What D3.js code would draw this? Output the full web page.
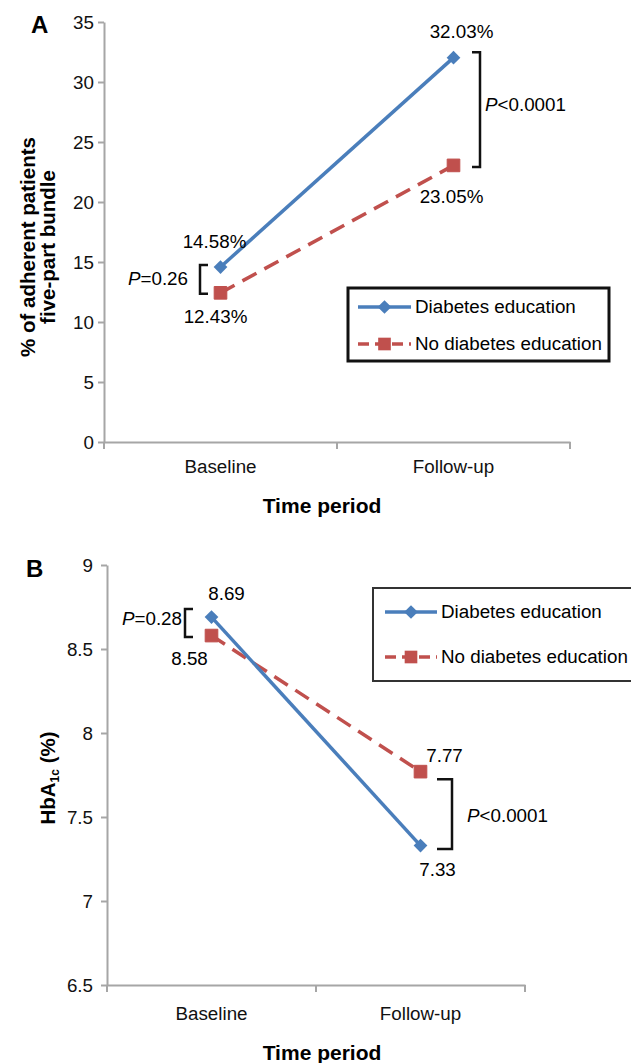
<!DOCTYPE html>
<html>
<head>
<meta charset="utf-8">
<script src="https://cdn.jsdelivr.net/npm/d3@7"></script>
<style>
  body { margin: 0; background: #fff; }
  svg { display: block; font-family: Arial, "Liberation Sans", sans-serif; }
  .axis path, .axis line { stroke: #a6a6a6; stroke-width: 2; }
  .axis text { fill: #111; }
</style>
</head>
<body>
<div id="vis"></div>
<script>
var width = 631;
var height = 1063;

// data
var categories = ["Baseline", "Follow-up"];
var seriesNames = ["Diabetes education", "No diabetes education"];
var adherenceEdu = [14.58, 32.03];
var adherenceNoEdu = [12.43, 23.05];
var hba1cEdu = [8.69, 7.33];
var hba1cNoEdu = [8.58, 7.77];
var ticksA = [0, 5, 10, 15, 20, 25, 30, 35];
var ticksB = [6.5, 7, 7.5, 8, 8.5, 9];
var labelsA = [["14.58%", "32.03%"], ["12.43%", "23.05%"]];
var labelsB = [["8.69", "7.33"], ["8.58", "7.77"]];
var pTextA = ["=0.26", "<0.0001"];
var pTextB = ["=0.28", "<0.0001"];

var blue = "#4a7ebb";
var red = "#c0504d";
var fs = '18.8px';

var svg = d3.select('#vis').append('svg')
    .attr('width', width)
    .attr('height', height);

function drawPanel(cfg) {
    var g = svg.append('g');

    var x = d3.scaleBand().domain(categories).range(cfg.xRange);
    var y = d3.scaleLinear().domain(d3.extent(cfg.ticks)).range(cfg.yRange);
    var cx = function (c) { return x(c) + x.bandwidth() / 2; };

    // y axis
    g.append('g')
        .attr('class', 'axis')
        .attr('transform', 'translate(' + cfg.xRange[0] + ',0)')
        .call(d3.axisLeft(y).tickValues(cfg.ticks).tickSize(6).tickSizeOuter(0)
            .tickPadding(cfg.yPad).tickFormat(d3.format('')))
        .selectAll('text').style('font-size', fs);

    // x axis, labels at band centres
    var xa = g.append('g')
        .attr('class', 'axis')
        .attr('transform', 'translate(0,' + cfg.yRange[0] + ')')
        .call(d3.axisBottom(x).tickSize(0).tickPadding(cfg.xPad).tickSizeOuter(0));
    xa.selectAll('text').style('font-size', fs);
    // category boundary ticks
    var edges = categories.map(function (c) { return x(c); }).concat([cfg.xRange[1]]);
    xa.selectAll('.edge').data(edges).enter().append('line')
        .attr('class', 'edge')
        .attr('x1', function (d) { return d; })
        .attr('x2', function (d) { return d; })
        .attr('y1', 0).attr('y2', 7);

    // axis titles
    g.append('text')
        .attr('x', 322).attr('y', cfg.xTitleY)
        .attr('text-anchor', 'middle')
        .style('font-weight', 'bold').style('font-size', '21px')
        .text('Time period');
    g.append('text')
        .attr('x', cfg.letter[0]).attr('y', cfg.letter[1])
        .style('font-weight', 'bold').style('font-size', '24px')
        .text(cfg.letterText);
    cfg.yTitle(g);

    // brackets with P values
    cfg.brackets.forEach(function (b) {
        var i = categories.indexOf(b.cat);
        var hi = Math.max(cfg.series[0][i], cfg.series[1][i]);
        var lo = Math.min(cfg.series[0][i], cfg.series[1][i]);
        var bx = cx(b.cat) + b.dx;
        var top = y(hi) + b.padTop;
        var bot = y(lo) + b.padBot;
        g.append('path')
            .attr('d', 'M' + (bx + b.arm) + ',' + top + 'H' + bx + 'V' + bot + 'H' + (bx + b.arm))
            .attr('fill', 'none')
            .attr('stroke', '#111')
            .attr('stroke-width', 2.5);
        var t = g.append('text')
            .attr('x', bx + b.tx)
            .attr('y', (top + bot) / 2 + b.ty)
            .attr('text-anchor', b.tx < 0 ? 'end' : 'start')
            .style('font-size', fs);
        t.append('tspan').style('font-style', 'italic').text('P');
        t.append('tspan').text(b.text);
    });

    // lines and markers
    var line = d3.line()
        .x(function (d, i) { return cx(categories[i]); })
        .y(function (d) { return y(d); });

    g.append('path')
        .datum(cfg.series[1])
        .attr('d', line)
        .attr('fill', 'none')
        .attr('stroke', red)
        .attr('stroke-width', 3.5)
        .attr('stroke-dasharray', '16,9');
    g.append('path')
        .datum(cfg.series[0])
        .attr('d', line)
        .attr('fill', 'none')
        .attr('stroke', blue)
        .attr('stroke-width', 3.5);

    var diamond = d3.symbol().type(d3.symbolDiamond2).size(120);
    var square = d3.symbol().type(d3.symbolSquare).size(160);

    g.selectAll('.sq').data(cfg.series[1]).enter().append('path')
        .attr('class', 'sq')
        .attr('d', square)
        .attr('transform', function (d, i) { return 'translate(' + cx(categories[i]) + ',' + y(d) + ')'; })
        .attr('fill', red)
        .attr('stroke', red).attr('stroke-width', 1).attr('stroke-linejoin', 'round');
    g.selectAll('.dm').data(cfg.series[0]).enter().append('path')
        .attr('class', 'dm')
        .attr('d', diamond)
        .attr('transform', function (d, i) { return 'translate(' + cx(categories[i]) + ',' + y(d) + ')'; })
        .attr('fill', blue);

    // value labels
    cfg.series.forEach(function (s, si) {
        s.forEach(function (v, i) {
            var off = cfg.labelOffsets[si][i];
            g.append('text')
                .attr('x', cx(categories[i]) + off[0])
                .attr('y', y(v) + off[1])
                .attr('text-anchor', 'middle')
                .style('font-size', fs)
                .text(cfg.labels[si][i]);
        });
    });

    // legend
    var lg = g.append('g');
    var L = cfg.legend;
    lg.append('rect')
        .attr('x', L.x).attr('y', L.y).attr('width', L.w).attr('height', L.h)
        .attr('fill', '#fff')
        .attr('stroke', L.stroke).attr('stroke-width', L.sw);
    seriesNames.forEach(function (name, i) {
        var ly = L.rows[i];
        lg.append('line')
            .attr('x1', L.lx[0]).attr('x2', L.lx[1])
            .attr('y1', ly).attr('y2', ly)
            .attr('stroke', i === 0 ? blue : red)
            .attr('stroke-width', 3.5)
            .attr('stroke-dasharray', i === 0 ? null : '11,6');
        lg.append('path')
            .attr('d', i === 0 ? diamond : square)
            .attr('transform', 'translate(' + (L.lx[0] + L.lx[1]) / 2 + ',' + ly + ')')
            .attr('fill', i === 0 ? blue : red);
        lg.append('text')
            .attr('x', L.lx[1] + 4).attr('y', ly + 6)
            .style('font-size', fs)
            .text(name);
    });
}

// panel A
drawPanel({
    letterText: 'A', letter: [31, 33],
    xRange: [104, 570], yRange: [442, 22],
    ticks: ticksA, yPad: 4, xPad: 18, xTitleY: 513,
    series: [adherenceEdu, adherenceNoEdu],
    labels: labelsA,
    labelOffsets: [[[-6, -19], [8, -20]], [[-5, 30], [-2, 38]]],
    brackets: [
        { cat: 'Baseline', dx: -20.5, arm: 8, padTop: -2, padBot: 1, tx: -12, ty: 6, text: pTextA[0] },
        { cat: 'Follow-up', dx: 26.5, arm: -8, padTop: -5.5, padBot: 1.5, tx: 5, ty: 1, text: pTextA[1] }
    ],
    legend: { x: 348, y: 288, w: 261, h: 73, stroke: '#111', sw: 3, lx: [358, 411], rows: [307, 344] },
    yTitle: function (g) {
        var t = g.append('g').attr('transform', 'translate(0,247) rotate(-90)')
            .style('font-weight', 'bold').style('font-size', '20.5px').attr('text-anchor', 'middle');
        t.append('text').attr('x', 0).attr('y', 35).text('% of adherent patients');
        t.append('text').attr('x', 0).attr('y', 55).text('five-part bundle');
    }
});

// panel B
drawPanel({
    letterText: 'B', letter: [26, 577],
    xRange: [107, 525], yRange: [985, 565],
    ticks: ticksB, yPad: 8, xPad: 22, xTitleY: 1060,
    series: [hba1cEdu, hba1cNoEdu],
    labels: labelsB,
    labelOffsets: [[[15, -17], [17, 30]], [[-22, 29], [24, -10]]],
    brackets: [
        { cat: 'Baseline', dx: -26.5, arm: 8, padTop: -8, padBot: 1.5, tx: -3, ty: 2, text: pTextB[0] },
        { cat: 'Follow-up', dx: 31.5, arm: -15, padTop: 7.5, padBot: 3.5, tx: 15, ty: 8, text: pTextB[1] }
    ],
    legend: { x: 373, y: 588, w: 270, h: 93, stroke: '#333', sw: 2, lx: [385, 437], rows: [612, 657] },
    yTitle: function (g) {
        var t = g.append('text').attr('transform', 'translate(55,778) rotate(-90)')
            .style('font-weight', 'bold').style('font-size', '20.5px').attr('text-anchor', 'middle');
        t.append('tspan').text('HbA');
        t.append('tspan').attr('dy', 4).style('font-size', '12px').text('1c');
        t.append('tspan').attr('dy', -4).text(' (%)');
    }
});
</script>
</body>
</html>
